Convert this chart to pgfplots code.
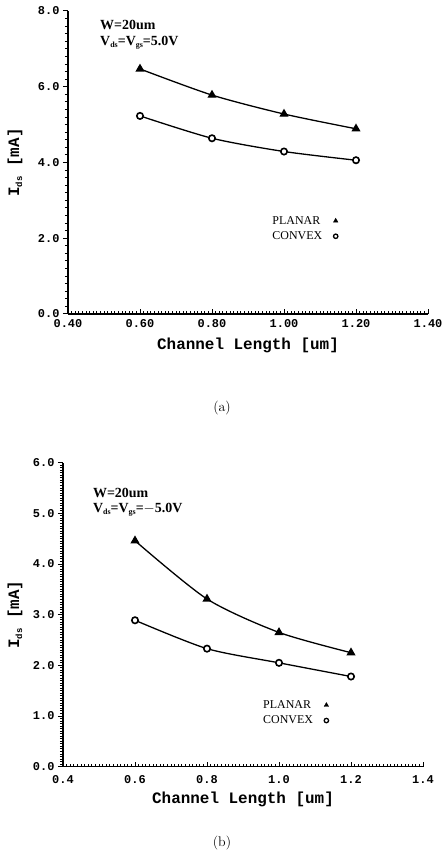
\documentclass[border=0pt]{standalone}
\usepackage{pgfplots}
\pgfplotsset{compat=1.18}
\usepackage{fontspec}
\setmonofont{Liberation Mono}
\newfontfamily\serifT{Liberation Serif}
\newcommand{\tickfont}{\ttfamily\bfseries\fontsize{12}{13}\selectfont}
\newcommand{\labfont}{\ttfamily\bfseries\fontsize{16}{17}\selectfont}
\newcommand{\annfont}{\serifT\bfseries\fontsize{14}{15}\selectfont}
\newcommand{\legfont}{\serifT\fontsize{12}{13}\selectfont}
\pgfplotsset{
  mystyle/.style={
    scale only axis, width=360bp,
    xmin=0.4, xmax=1.4,
    axis x line=bottom, axis y line=left,
    axis line style={-, line width=1.6bp},
    tick align=inside,
    major tick length=5bp, minor tick length=3bp,
    every tick/.style={black, line width=1bp},
    every major y tick/.append style={xshift=-5bp},
    every minor y tick/.append style={xshift=-3bp},
    /pgf/number format/assume math mode=true,
    tick label style={font=\tickfont},
    label style={font=\labfont},
    xlabel={Channel Length [um]},
    ylabel={I\raisebox{-3bp}{\fontsize{9}{9}\selectfont ds} [mA]},
    ylabel style={at={(axis description cs:0,0.5)}, anchor=center},
    xlabel style={at={(axis description cs:0.5,0)}, anchor=center},
    minor x tick num=19,
    legend plot pos=right,
    legend cell align=left,
    legend style={draw=none, fill=none, font=\legfont, row sep=3bp,
      nodes={inner sep=1.5bp}},
  },
  curve/.style={black, line width=1.3bp, smooth, tension=0.45, forget plot},
  tri/.style={mark=triangle*, mark size=4bp, mark options={solid, fill=black}},
  circ/.style={mark=*, mark size=3.2bp, mark options={solid, fill=white, line width=1.6bp}},
  legtri/.style={legend image code/.code={\path[draw=none, fill=none] (0cm,0cm) -- (0.42cm,0cm); \draw[black, fill=black, mark=triangle*, mark size=2.6bp, only marks] plot coordinates {(0.42cm,0cm)};}},
  legcirc/.style={legend image code/.code={\path[draw=none, fill=none] (0cm,0cm) -- (0.42cm,0cm); \draw[black, line width=1.3bp, mark=o, mark size=2.2bp, only marks] plot coordinates {(0.42cm,0cm)};}},
}
\begin{document}
\begin{tikzpicture}
\useasboundingbox (0,0) rectangle (443bp,855bp);
% ---------- (a) ----------
\begin{axis}[mystyle,
  at={(68bp,541bp)}, anchor=south west, height=303bp,
  ymin=0, ymax=8,
  xtick={0.4,0.6,0.8,1.0,1.2,1.4},
  ytick={0,2,4,6,8},
  minor y tick num=9,
  xticklabel style={yshift=-2bp, /pgf/number format/.cd, fixed, fixed zerofill, precision=2},
  yticklabel style={xshift=-5bp, /pgf/number format/.cd, fixed, fixed zerofill, precision=1},
  xlabel style={yshift=-31bp},
  ylabel style={yshift=53bp},
  legend style={at={(rel axis cs:0.555,0.335)}, anchor=north west},
]
\addplot[curve, tri] coordinates {(0.6,6.47) (0.8,5.78) (1.0,5.28) (1.2,4.89)};
\addplot[curve, circ] coordinates {(0.6,5.23) (0.8,4.64) (1.0,4.29) (1.2,4.06)};
\addlegendimage{legtri}
\addlegendentry{PLANAR}
\addlegendimage{legcirc}
\addlegendentry{CONVEX}
\node[anchor=west, font=\annfont, inner sep=0pt] at (axis cs:0.489,7.63) {W=20um};
\node[anchor=west, font=\annfont, inner sep=0pt] at (axis cs:0.489,7.16) {V\raisebox{-2bp}{\fontsize{8}{8}\selectfont ds}=V\raisebox{-2bp}{\fontsize{8}{8}\selectfont gs}=5.0V};
\end{axis}
\node[font=\fontsize{14}{15}\selectfont] at (222bp,447bp) {(a)};
% ---------- (b) ----------
\begin{axis}[mystyle,
  at={(63bp,88.3bp)}, anchor=south west, height=304bp,
  ymin=0, ymax=6,
  xtick={0.4,0.6,0.8,1.0,1.2,1.4},
  ytick={0,1,2,3,4,5,6},
  minor y tick num=19,
  xticklabel style={yshift=-5bp, /pgf/number format/.cd, fixed, fixed zerofill, precision=1},
  yticklabel style={xshift=-5bp, /pgf/number format/.cd, fixed, fixed zerofill, precision=1},
  xlabel style={yshift=-33bp},
  ylabel style={yshift=48bp},
  legend style={at={(rel axis cs:0.543,0.23)}, anchor=north west},
]
\addplot[curve, tri] coordinates {(0.6,4.46) (0.8,3.31) (1.0,2.65) (1.2,2.25)};
\addplot[curve, circ] coordinates {(0.6,2.89) (0.8,2.33) (1.0,2.05) (1.2,1.78)};
\addlegendimage{legtri}
\addlegendentry{PLANAR}
\addlegendimage{legcirc}
\addlegendentry{CONVEX}
\node[anchor=west, font=\annfont, inner sep=0pt] at (axis cs:0.483,5.40) {W=20um};
\node[anchor=west, font=\annfont, inner sep=0pt] at (axis cs:0.483,5.07) {V\raisebox{-2bp}{\fontsize{8}{8}\selectfont ds}=V\raisebox{-2bp}{\fontsize{8}{8}\selectfont gs}=$-$5.0V};
\end{axis}
\node[font=\fontsize{14}{15}\selectfont] at (222bp,12bp) {(b)};
\end{tikzpicture}
\end{document}
